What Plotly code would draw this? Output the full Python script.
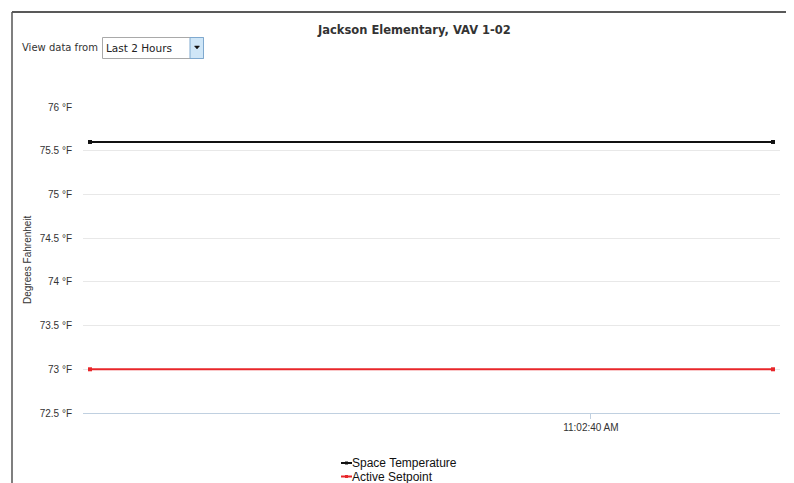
import plotly.graph_objects as go
from datetime import datetime, timedelta

# ---- data ----
times = ["2013-01-01 11:02:29", "2013-01-01 11:02:44"]
space_temperature = [75.6, 75.6]
active_setpoint = [73.0, 73.0]
series_names = ["Space Temperature", "Active Setpoint"]
series_colors = ["#111111", "#e8262a"]
y_tick_values = [72.5, 73, 73.5, 74, 74.5, 75, 75.5, 76]
y_tick_labels = ["72.5 °F", "73 °F", "73.5 °F", "74 °F", "74.5 °F", "75 °F", "75.5 °F", "76 °F"]
x_tick_values = ["2013-01-01 11:02:40"]
x_tick_labels = ["11:02:40 AM"]
title_text = "Jackson Elementary, VAV 1-02"
y_title = "Degrees Fahrenheit"
range_label = "View data from"
range_choice = "Last 2 Hours"

OFF = 8  # page body margin
W, H = 794 - OFF, 500
# plot area in screen pixels (reference)
SL, SR, ST, SB = 83, 780, 107, 413
L, R, T, B = SL - OFF, SR - OFF, ST - OFF, SB - OFF

def px(x):  # screen x -> paper
    return (x - SL) / (SR - SL)

def py(y):  # screen y -> paper
    return (SB - y) / (SB - ST)

t0 = datetime.fromisoformat(times[0])
t1 = datetime.fromisoformat(times[1])
span = (t1 - t0).total_seconds()
pad = span * 7 / 683
xr = [t0 - timedelta(seconds=pad), t1 + timedelta(seconds=pad)]

fig = go.Figure()
for name, vals, col in zip(series_names, [space_temperature, active_setpoint], series_colors):
    fig.add_trace(go.Scatter(
        x=times, y=vals, name=name, mode="lines+markers",
        line=dict(color=col, width=2),
        marker=dict(color=col, size=4, symbol="square"),
        showlegend=False))

shapes = [
    # outer frame: top and left border
    dict(type="line", xref="paper", yref="paper", x0=px(12), x1=px(800), y0=py(12), y1=py(12),
         line=dict(color="#222222", width=1.5)),
    dict(type="line", xref="paper", yref="paper", x0=px(12), x1=px(12), y0=py(12), y1=py(500),
         line=dict(color="#555555", width=1.5)),
    # dropdown box
    dict(type="rect", xref="paper", yref="paper", x0=px(102.5), x1=px(203.5), y0=py(37.5), y1=py(58.5),
         line=dict(color="#a9a9a9", width=1), fillcolor="white"),
    dict(type="rect", xref="paper", yref="paper", x0=px(190), x1=px(203.5), y0=py(37.5), y1=py(58.5),
         line=dict(color="#7fa9cf", width=1), fillcolor="#cfe6f7"),
    dict(type="path", xref="paper", yref="paper",
         path=f"M {px(194.5)},{py(46)} L {px(199.5)},{py(46)} L {px(197)},{py(49)} Z",
         line=dict(color="#111111", width=0.5), fillcolor="#111111"),
]

annotations = [
    dict(text=f"<b>{title_text}</b>", xref="paper", yref="paper", x=px(414), y=py(30),
         xanchor="center", yanchor="middle", showarrow=False,
         font=dict(family="DejaVu Sans", size=11.5, color="#333333")),
    dict(text=range_label, xref="paper", yref="paper", x=px(20), y=py(47),
         xanchor="left", yanchor="middle", showarrow=False,
         font=dict(family="DejaVu Sans", size=10, color="#333333")),
    dict(text=range_choice, xref="paper", yref="paper", x=px(104), y=py(48),
         xanchor="left", yanchor="middle", showarrow=False,
         font=dict(family="DejaVu Sans", size=10.5, color="#222222")),
    dict(text=y_title, xref="paper", yref="paper", x=px(27), y=py(260), textangle=-90,
         xanchor="center", yanchor="middle", showarrow=False,
         font=dict(family="Liberation Sans", size=10, color="#333333")),
]

# manual legend (short line + marker, text right after)
leg_x, leg_y0, leg_dy = 341, 463, 13.5
for i, (name, col) in enumerate(zip(series_names, series_colors)):
    yy = leg_y0 + i * leg_dy
    shapes.append(dict(type="line", xref="paper", yref="paper", x0=px(leg_x), x1=px(leg_x + 11),
                       y0=py(yy), y1=py(yy), line=dict(color=col, width=2)))
    shapes.append(dict(type="rect", xref="paper", yref="paper", x0=px(leg_x + 4), x1=px(leg_x + 7),
                       y0=py(yy - 1.5), y1=py(yy + 1.5), line=dict(color=col, width=0), fillcolor=col))
    annotations.append(dict(text=name, xref="paper", yref="paper", x=px(leg_x + 9), y=py(yy),
                            xanchor="left", yanchor="middle", showarrow=False,
                            font=dict(family="Liberation Sans", size=12, color="#111111")))

fig.update_layout(
    width=W, height=H,
    margin=dict(l=L, r=W - R, t=T, b=H - B, autoexpand=False),
    paper_bgcolor="white", plot_bgcolor="white",
    showlegend=False,
    shapes=shapes, annotations=annotations,
    xaxis=dict(type="date", range=xr, tickvals=x_tick_values, ticktext=x_tick_labels,
               showgrid=False, zeroline=False, showline=True, linecolor="#c0d0e0", linewidth=1,
               ticks="outside", ticklen=5, tickcolor="#c0d0e0",
               tickfont=dict(family="Liberation Sans", size=10, color="#333333")),
    yaxis=dict(range=[72.5, 76], tickvals=y_tick_values, ticktext=y_tick_labels,
               showgrid=True, gridcolor="#e8e8e8", gridwidth=1, zeroline=False, showline=False,
               ticks="", ticklabelstandoff=10,
               tickfont=dict(family="Liberation Sans", size=10, color="#333333")),
)

fig.write_html("out.html")
